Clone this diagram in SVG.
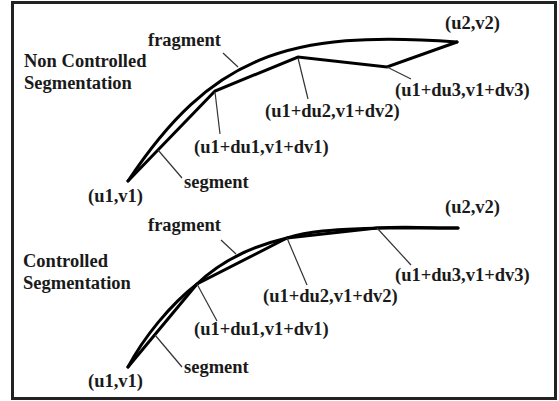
<svg xmlns="http://www.w3.org/2000/svg" width="559" height="401" viewBox="0 0 559 401">
<style>
text{font-family:"Liberation Serif","Times New Roman",serif;font-weight:bold;font-size:18.5px;fill:#1a1a1a}
.thick{fill:none;stroke:#000;stroke-width:3;stroke-linejoin:miter;stroke-linecap:round}
.lead{fill:none;stroke:#333;stroke-width:1.2}
</style>
<rect x="0" y="0" width="559" height="401" fill="#fff"/>
<rect x="12.5" y="2.5" width="543" height="396" fill="none" stroke="#222" stroke-width="3"/>
<g id="top">
<text x="24" y="67">Non Controlled</text>
<text x="24" y="89">Segmentation</text>
<path id="top-fragment" class="thick" d="M128,181 C211,56 287.5,29.4 457,42"/>
<path id="top-segment" class="thick" d="M128,181 L215,91 L298,57 L387,67 L457,42"/>
</g>
<g id="bottom">
<text x="23" y="267">Controlled</text>
<text x="23" y="289">Segmentation</text>
<path id="bottom-fragment" class="thick" d="M128,367 C144,337 170,305 197,284 C222,260 253,246 287,238 C315.7,229.1 347,229.7 377,228 C404,226.4 431,228 458,228"/>
<path id="bottom-segment" class="thick" d="M128,367 L197,284 L287,238 L377,228 L458,228"/>
</g>
<g id="connectors">
<line class="lead" x1="223" y1="53" x2="238" y2="67"/>
<line class="lead" x1="215" y1="92" x2="220" y2="134"/>
<line class="lead" x1="298" y1="58" x2="308" y2="99"/>
<line class="lead" x1="387" y1="67" x2="411" y2="79"/>
<line class="lead" x1="158" y1="150" x2="182" y2="178"/>
<line class="lead" x1="221" y1="240" x2="236" y2="254"/>
<line class="lead" x1="197" y1="284" x2="217" y2="321"/>
<line class="lead" x1="287" y1="238" x2="307" y2="285"/>
<line class="lead" x1="377" y1="228" x2="411" y2="265"/>
<line class="lead" x1="155" y1="335" x2="182" y2="367"/>
</g>
<g id="labels-top">
<text x="148" y="46">fragment</text>
<text x="445" y="29">(u2,v2)</text>
<text x="395" y="96">(u1+du3,v1+dv3)</text>
<text x="265" y="117">(u1+du2,v1+dv2)</text>
<text x="194" y="153">(u1+du1,v1+dv1)</text>
<text x="184" y="188">segment</text>
<text x="88" y="202">(u1,v1)</text>
</g>
<g id="labels-bottom">
<text x="148" y="231">fragment</text>
<text x="445" y="213">(u2,v2)</text>
<text x="395" y="281">(u1+du3,v1+dv3)</text>
<text x="263" y="302">(u1+du2,v1+dv2)</text>
<text x="194" y="335">(u1+du1,v1+dv1)</text>
<text x="184" y="373">segment</text>
<text x="88" y="387">(u1,v1)</text>
</g>
</svg>
